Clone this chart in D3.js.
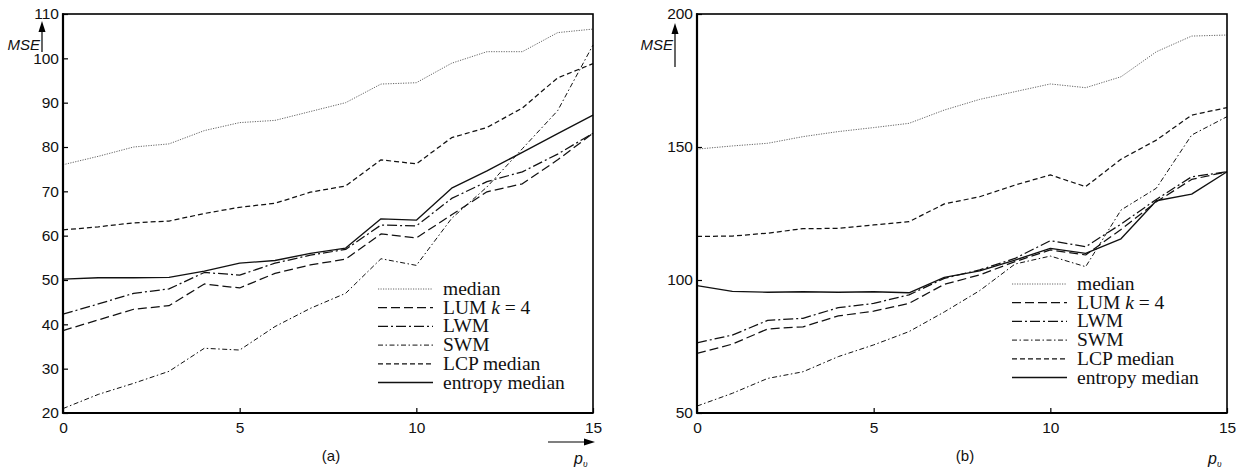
<!DOCTYPE html>
<html><head><meta charset="utf-8">
<script src="https://cdn.jsdelivr.net/npm/d3@7"></script>
<style>
html,body{margin:0;padding:0;background:#fff;}
svg{display:block;}
</style></head>
<body>
<svg id="chart" width="1244" height="470"></svg>
<script>
const pv = d3.range(0, 16);
const seriesNames = ["median", "LUM k = 4", "LWM", "SWM", "LCP median", "entropy median"];

// panel (a)
const aMedian  = [76, 77.9, 80, 80.7, 83.7, 85.5, 86, 88, 90, 94.2, 94.5, 98.9, 101.5, 101.5, 105.8, 106.6];
const aLUM     = [38.6, 41, 43.4, 44.2, 49.1, 48.2, 51.5, 53.4, 54.7, 60.4, 59.5, 64.7, 69.9, 71.7, 77.1, 83.1];
const aLWM     = [42.3, 44.6, 47, 48, 51.7, 51.1, 53.8, 55.6, 56.9, 62.4, 62.2, 68.4, 72.2, 74.4, 78.4, 83.1];
const aSWM     = [21, 24.2, 26.7, 29.4, 34.6, 34.2, 39.5, 43.6, 47, 54.8, 53.3, 63.9, 71, 79.6, 88.2, 103];
const aLCP     = [61.3, 62, 62.9, 63.3, 65, 66.4, 67.3, 69.8, 71.2, 77.1, 76.2, 82.1, 84.4, 88.8, 95.6, 98.8];
const aEntropy = [50.2, 50.5, 50.5, 50.6, 52, 53.8, 54.4, 56, 57.2, 63.8, 63.5, 70.7, 74.6, 78.8, 83, 87.2];

// panel (b)
const bMedian  = [149.2, 150.4, 151.4, 153.9, 155.8, 157.3, 158.9, 163.9, 167.9, 170.8, 173.7, 172.3, 176.4, 185.8, 191.7, 192.1];
const bLUM     = [72.4, 75.9, 81.6, 82.4, 86.5, 88.3, 91.2, 98.4, 101.9, 106.9, 111.3, 109.4, 119, 129.4, 137.8, 140.7];
const bLWM     = [76.4, 79.3, 84.8, 85.6, 89.6, 91.2, 94.4, 100.6, 103.8, 108.1, 114.8, 112.5, 121, 130.3, 138.8, 140.7];
const bSWM     = [52.6, 57.4, 63, 65.5, 71.2, 75.6, 80.6, 88, 96, 106, 109, 105, 126.3, 134.5, 154.5, 161.4];
const bLCP     = [116.4, 116.5, 117.6, 119.3, 119.4, 120.7, 121.9, 128.6, 131.3, 135.7, 139.5, 135.1, 145.4, 152.6, 162, 164.8];
const bEntropy = [97.9, 95.7, 95.4, 95.6, 95.4, 95.6, 95.2, 101, 103.4, 107.5, 111.9, 110, 115.5, 129.8, 132.3, 140.7];

const xTicks = [0, 5, 10, 15];
const aYTicks = [20, 30, 40, 50, 60, 70, 80, 90, 100, 110];
const bYTicks = [50, 100, 150, 200];

const styles = [
  {dash: "1.2,1.3", color: "#666", width: 1},
  {dash: "9,4", color: "#111", width: 1.25},
  {dash: "10,3,2,3", color: "#111", width: 1.25},
  {dash: "5,2.5,1.5,2.5", color: "#111", width: 1},
  {dash: "5,3", color: "#111", width: 1.25},
  {dash: null, color: "#111", width: 1.35}
];

const svg = d3.select("#chart");
const sansFont = "'Liberation Sans', Arial, sans-serif";
const serifFont = "'Liberation Serif', 'Times New Roman', serif";

function panel(opts) {
  const {left, right, top, bottom, yDomain, yTicks, data, label, legendTop, xArrow, mseX, arrowX, arrowBottom} = opts;
  const x = d3.scaleLinear().domain([0, 15]).range([left, right]);
  const y = d3.scaleLinear().domain(yDomain).range([bottom, top]);
  const g = svg.append("g");

  const line = d3.line().x((d, i) => x(pv[i])).y(d => y(d));
  data.forEach((vals, k) => {
    const st = styles[k];
    g.append("path").attr("d", line(vals))
      .attr("fill", "none").attr("stroke", st.color)
      .attr("stroke-width", st.width)
      .attr("stroke-dasharray", st.dash)
      .attr("stroke-linejoin", "round");
  });

  const yAxis = d3.axisLeft(y).tickValues(yTicks).tickSize(-5).tickPadding(4).tickFormat(d3.format("d"));
  const ga = g.append("g").attr("transform", `translate(${left},0)`).call(yAxis);
  const xAxis = d3.axisBottom(x).tickValues(xTicks).tickSize(-5).tickPadding(9).tickFormat(d3.format("d"));
  const gx = g.append("g").attr("transform", `translate(0,${bottom})`).call(xAxis);
  [ga, gx].forEach(a => {
    a.select(".domain").remove();
    a.selectAll(".tick line").attr("stroke", "#000").attr("stroke-width", 1.2);
    a.selectAll(".tick text").attr("font-family", sansFont).attr("font-size", 15.5).attr("fill", "#111");
  });

  g.append("rect").attr("x", left).attr("y", top).attr("width", right - left).attr("height", bottom - top)
    .attr("fill", "none").attr("stroke", "#000").attr("stroke-width", 1.6);
  g.append("line").attr("x1", left).attr("x2", left).attr("y1", top - 0.8).attr("y2", bottom + 0.8)
    .attr("stroke", "#000").attr("stroke-width", 2.2);
  g.append("line").attr("x1", left).attr("x2", right).attr("y1", bottom).attr("y2", bottom)
    .attr("stroke", "#000").attr("stroke-width", 2.2);

  const lx0 = left + 315, lx1 = left + 370, tx = left + 380;
  seriesNames.forEach((name, k) => {
    const st = styles[k];
    const ly = legendTop + k * 18.7;
    g.append("line").attr("x1", lx0).attr("x2", lx1).attr("y1", ly).attr("y2", ly)
      .attr("stroke", st.color).attr("stroke-width", st.width).attr("stroke-dasharray", st.dash);
    const t = g.append("text").attr("x", tx).attr("y", ly + 6)
      .attr("font-family", serifFont).attr("font-size", 19.5).attr("fill", "#111");
    if (name === "LUM k = 4") {
      t.append("tspan").text("LUM ");
      t.append("tspan").attr("font-style", "italic").text("k");
      t.append("tspan").text(" = 4");
    } else t.text(name);
  });

  g.append("text").attr("x", mseX).attr("y", 50).attr("text-anchor", "end")
    .attr("font-family", sansFont).attr("font-style", "italic").attr("font-size", 15).attr("fill", "#111").text("MSE");
  g.append("line").attr("x1", arrowX).attr("x2", arrowX).attr("y1", arrowBottom).attr("y2", 30)
    .attr("stroke", "#000").attr("stroke-width", 1.2);
  g.append("path").attr("d", `M${arrowX},${arrowBottom > 60 ? 23 : 21} l-3.5,11 l7,0 Z`).attr("fill", "#000");

  if (xArrow) {
    g.append("line").attr("x1", right - 45).attr("x2", right - 6).attr("y1", 442).attr("y2", 442)
      .attr("stroke", "#000").attr("stroke-width", 1.2);
    g.append("path").attr("d", `M${right + 2},442 l-11,-3.5 l0,7 Z`).attr("fill", "#000");
  }

  const pl = g.append("text").attr("x", right - 19).attr("y", 464)
    .attr("font-family", sansFont).attr("font-style", "italic").attr("font-size", 16).attr("fill", "#111");
  pl.append("tspan").text("p");
  pl.append("tspan").attr("font-size", 10).attr("dy", 3).attr("font-family", serifFont).text("υ");

  g.append("text").attr("x", (left + right) / 2 + 3).attr("y", 461).attr("text-anchor", "middle")
    .attr("font-family", sansFont).attr("font-size", 15).attr("fill", "#111").text(label);
}

panel({left: 63, right: 593, top: 14, bottom: 413, yDomain: [20, 110], yTicks: aYTicks,
  data: [aMedian, aLUM, aLWM, aSWM, aLCP, aEntropy], label: "(a)", legendTop: 289,
  xArrow: true, mseX: 40, arrowX: 42, arrowBottom: 52});
panel({left: 697, right: 1227, top: 14, bottom: 413, yDomain: [50, 200], yTicks: bYTicks,
  data: [bMedian, bLUM, bLWM, bSWM, bLCP, bEntropy], label: "(b)", legendTop: 284,
  xArrow: false, mseX: 673, arrowX: 675, arrowBottom: 67});
</script>
</body></html>
